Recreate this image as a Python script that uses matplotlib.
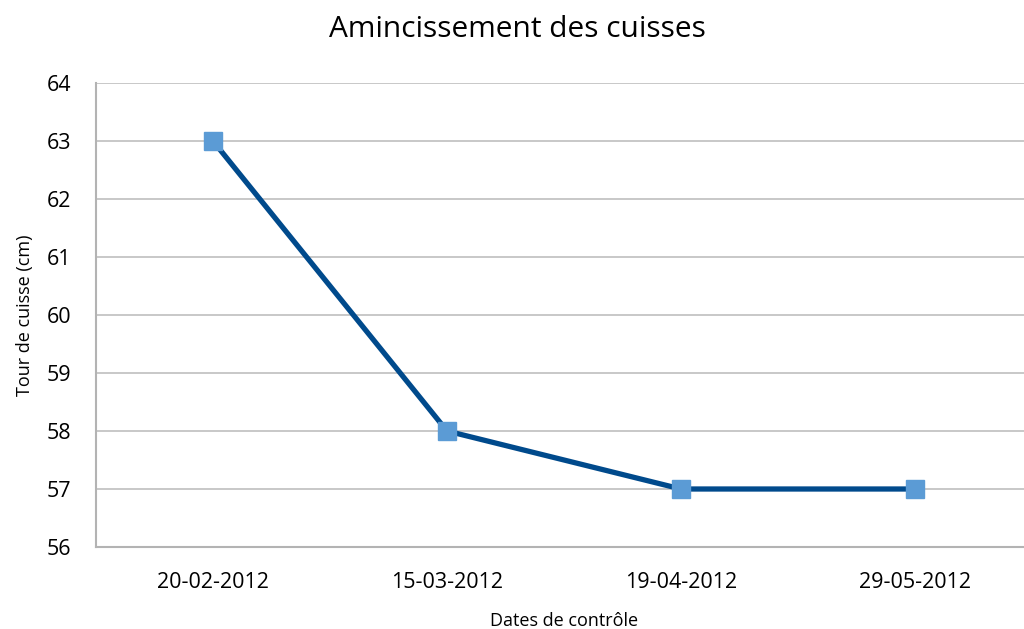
import matplotlib
matplotlib.use("Agg")
import matplotlib.pyplot as plt

dates = ['20-02-2012', '15-03-2012', '19-04-2012', '29-05-2012']
tour_cuisse = [63, 58, 57, 57]
y_ticks = [56, 57, 58, 59, 60, 61, 62, 63, 64]

plt.rcParams['font.family'] = ['Open Sans', 'DejaVu Sans']

fig = plt.figure(figsize=(10.24, 6.29), dpi=100)
ax = fig.add_axes([96 / 1024, 82 / 629, 936 / 1024, 464 / 629])

x = list(range(len(dates)))
ax.plot(x, tour_cuisse, color='#004a8c', linewidth=3.8, zorder=3,
        marker='s', markersize=13, markerfacecolor='#5b9bd5',
        markeredgecolor='#5b9bd5')

ax.set_xlim(-0.5, len(dates) - 0.5)
ax.set_ylim(56, 64)
ax.set_yticks(y_ticks)
ax.set_xticks(x)
ax.set_xticklabels(dates)
ax.tick_params(length=0, labelsize=15.5)
ax.tick_params(axis='y', pad=18)
ax.tick_params(axis='x', pad=18)

ax.grid(axis='y', color='#bfbfbf', linewidth=1.2)
ax.set_axisbelow(True)
for side in ['top', 'right']:
    ax.spines[side].set_visible(False)
for side in ['left', 'bottom']:
    ax.spines[side].set_color('#b3b3b3')
    ax.spines[side].set_linewidth(1.5)

# the plot area runs past the right edge, so centre the title on the figure
ax.set_title('Amincissement des cuisses', fontsize=21.5, pad=33, x=(517 - 96) / 936)
ax.set_xlabel('Dates de contrôle', fontsize=13, labelpad=14)
ax.set_ylabel('Tour de cuisse (cm)', fontsize=13, labelpad=9)

fig.savefig('out.png', dpi=100)
